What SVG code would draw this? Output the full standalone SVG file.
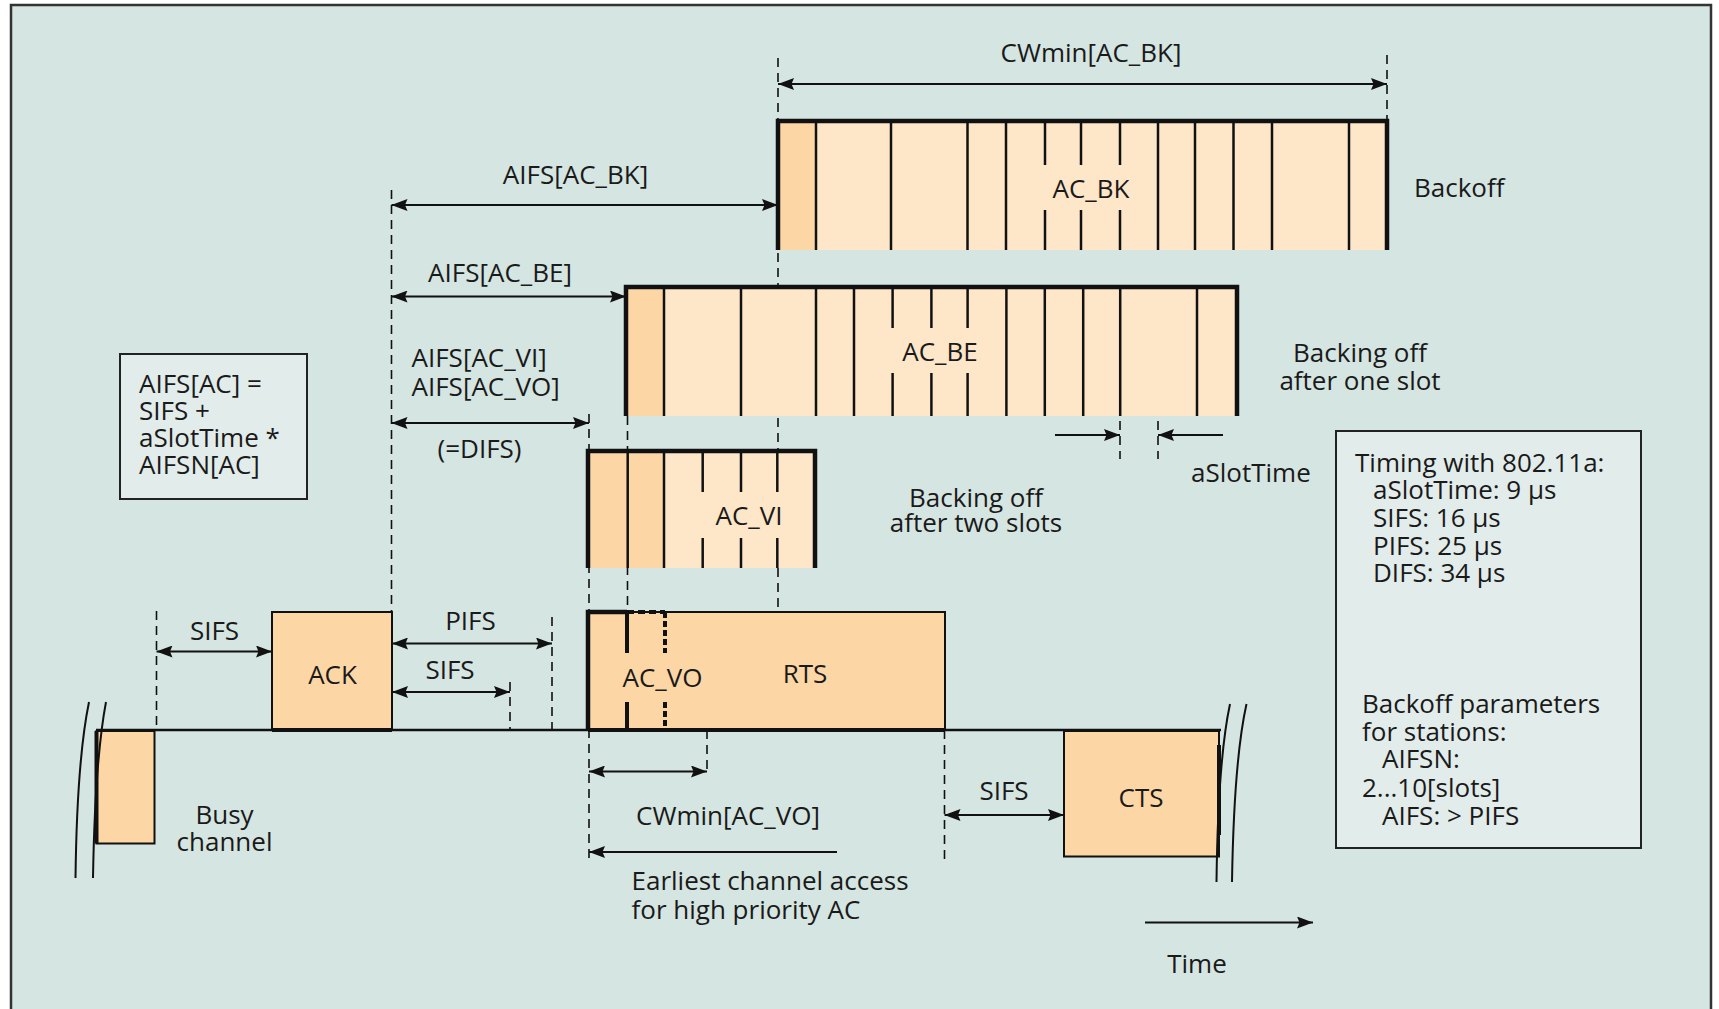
<svg xmlns="http://www.w3.org/2000/svg" width="1719" height="1009" viewBox="0 0 1719 1009">
<defs>
<marker id="ah" viewBox="0 0 16 12" refX="16" refY="6" markerWidth="16" markerHeight="12" markerUnits="userSpaceOnUse" orient="auto-start-reverse"><path d="M0,0 L16,6 L0,12 L2.5,6 z" fill="#111"/></marker>
</defs>
<style>
.t{font-family:"Open Sans","Liberation Sans",Arial,sans-serif;font-size:26px;fill:#1a1a1a}
.m{text-anchor:middle}
.dash{stroke:#111;stroke-width:1.6;stroke-dasharray:9 6;fill:none}
.arr{stroke:#111;stroke-width:2.2;fill:none;marker-end:url(#ah)}
.dbl{marker-start:url(#ah)}
.dk{fill:#fdd6a6}
.lt{fill:#fee6c9}
.slot{stroke:#111;stroke-width:2.5}
.thick{stroke:#111;stroke-width:4.5;fill:none}
.edge{stroke:#111;stroke-width:2}
.leg{fill:#e2ecea;stroke:#222;stroke-width:2}
.brk{stroke:#111;stroke-width:2;fill:none}
</style>
<rect x="0" y="0" width="1719" height="1009" fill="#ffffff"/>
<rect x="11" y="5" width="1700" height="1030" fill="#d5e5e1" stroke="#333" stroke-width="2.5"/>

<g id="connectors">
  <!-- dashed guides -->
  <line class="dash" x1="778" y1="58" x2="778" y2="612"/>
  <line class="dash" x1="1387" y1="55" x2="1387" y2="121"/>
  <line class="dash" x1="391.5" y1="190" x2="391.5" y2="612"/>
  <line class="dash" x1="589" y1="414" x2="589" y2="861"/>
  <line class="dash" x1="627.5" y1="416" x2="627.5" y2="612"/>
  <line class="dash" x1="707" y1="730" x2="707" y2="773"/>
  <line class="dash" x1="944.5" y1="730" x2="944.5" y2="862"/>
  <line class="dash" x1="156.5" y1="611" x2="156.5" y2="730"/>
  <line class="dash" x1="552" y1="617" x2="552" y2="730"/>
  <line class="dash" x1="510" y1="682" x2="510" y2="730"/>
  <line class="dash" x1="1120" y1="421" x2="1120" y2="459"/>
  <line class="dash" x1="1158" y1="421" x2="1158" y2="459"/>
  <!-- arrows -->
  <line class="arr dbl" x1="778" y1="84" x2="1387" y2="84"/>
  <line class="arr dbl" x1="391.5" y1="205" x2="778" y2="205"/>
  <line class="arr dbl" x1="391.5" y1="296.5" x2="626" y2="296.5"/>
  <line class="arr dbl" x1="391.5" y1="423" x2="589" y2="423"/>
  <line class="arr" x1="1055" y1="435" x2="1120" y2="435"/>
  <line class="arr" x1="1223" y1="435" x2="1158" y2="435"/>
  <line class="arr dbl" x1="156.5" y1="651.5" x2="272" y2="651.5"/>
  <line class="arr dbl" x1="392" y1="643.5" x2="552" y2="643.5"/>
  <line class="arr dbl" x1="392" y1="692" x2="510" y2="692"/>
  <line class="arr dbl" x1="589" y1="771.5" x2="707" y2="771.5"/>
  <line class="arr" x1="837" y1="852" x2="589" y2="852"/>
  <line class="arr dbl" x1="944.5" y1="815" x2="1064" y2="815"/>
  <line class="arr" x1="1145" y1="922.5" x2="1313" y2="922.5"/>
</g>

<g id="ac_bk">
  <rect class="lt" x="778" y="121" width="609" height="129"/>
  <rect class="dk" x="778" y="121" width="38" height="129"/>
  <g class="slot">
    <line x1="816" y1="121" x2="816" y2="250"/>
    <line x1="891" y1="121" x2="891" y2="250"/>
    <line x1="967.5" y1="121" x2="967.5" y2="250"/>
    <line x1="1006" y1="121" x2="1006" y2="250"/>
    <line x1="1045" y1="121" x2="1045" y2="165"/><line x1="1045" y1="210" x2="1045" y2="250"/>
    <line x1="1081" y1="121" x2="1081" y2="165"/><line x1="1081" y1="210" x2="1081" y2="250"/>
    <line x1="1120" y1="121" x2="1120" y2="165"/><line x1="1120" y1="210" x2="1120" y2="250"/>
    <line x1="1158" y1="121" x2="1158" y2="250"/>
    <line x1="1195" y1="121" x2="1195" y2="250"/>
    <line x1="1233.5" y1="121" x2="1233.5" y2="250"/>
    <line x1="1272" y1="121" x2="1272" y2="250"/>
    <line x1="1349" y1="121" x2="1349" y2="250"/>
  </g>
  <path class="thick" d="M778,250 V121 H1387 V250"/>
  <text class="t m" x="1091" y="198">AC_BK</text>
</g>

<g id="ac_be">
  <rect class="lt" x="626" y="287" width="611" height="129"/>
  <rect class="dk" x="626" y="287" width="38" height="129"/>
  <g class="slot">
    <line x1="664" y1="287" x2="664" y2="416"/>
    <line x1="741" y1="287" x2="741" y2="416"/>
    <line x1="816" y1="287" x2="816" y2="416"/>
    <line x1="854" y1="287" x2="854" y2="416"/>
    <line x1="892.6" y1="287" x2="892.6" y2="328"/><line x1="892.6" y1="373" x2="892.6" y2="416"/>
    <line x1="931.4" y1="287" x2="931.4" y2="328"/><line x1="931.4" y1="373" x2="931.4" y2="416"/>
    <line x1="967.6" y1="287" x2="967.6" y2="328"/><line x1="967.6" y1="373" x2="967.6" y2="416"/>
    <line x1="1006.4" y1="287" x2="1006.4" y2="416"/>
    <line x1="1044.8" y1="287" x2="1044.8" y2="416"/>
    <line x1="1083.2" y1="287" x2="1083.2" y2="416"/>
    <line x1="1120.2" y1="287" x2="1120.2" y2="416"/>
    <line x1="1197" y1="287" x2="1197" y2="416"/>
  </g>
  <path class="thick" d="M626,416 V287 H1237 V416"/>
  <text class="t m" x="940" y="361">AC_BE</text>
</g>

<g id="ac_vi">
  <rect class="lt" x="588" y="451" width="227" height="117"/>
  <rect class="dk" x="588" y="451" width="76" height="117"/>
  <g class="slot">
    <line x1="627.7" y1="451" x2="627.7" y2="568"/>
    <line x1="664" y1="451" x2="664" y2="568"/>
    <line x1="702.7" y1="451" x2="702.7" y2="492"/><line x1="702.7" y1="538" x2="702.7" y2="568"/>
    <line x1="741" y1="451" x2="741" y2="492"/><line x1="741" y1="538" x2="741" y2="568"/>
    <line x1="777.3" y1="451" x2="777.3" y2="492"/><line x1="777.3" y1="538" x2="777.3" y2="568"/>
  </g>
  <path class="thick" d="M588,568 V451 H815 V568"/>
  <text class="t m" x="749" y="525">AC_VI</text>
</g>

<g id="rts">
  <rect class="dk edge" x="588" y="612" width="357" height="118"/>
  <path class="thick" d="M588,730 V612 H627"/>
  <line x1="627" y1="612" x2="665" y2="612" stroke="#111" stroke-width="4" stroke-dasharray="7 4"/>
  <line x1="627" y1="612" x2="627" y2="653" stroke="#111" stroke-width="4"/>
  <line x1="627" y1="702" x2="627" y2="730" stroke="#111" stroke-width="4"/>
  <line x1="665" y1="612" x2="665" y2="653" stroke="#111" stroke-width="4" stroke-dasharray="6 3"/>
  <line x1="665" y1="702" x2="665" y2="730" stroke="#111" stroke-width="4" stroke-dasharray="6 3"/>
  <text class="t m" x="662.5" y="687">AC_VO</text>
  <text class="t m" x="805" y="682.5">RTS</text>
</g>

<g id="ack">
  <rect class="dk edge" x="272" y="612" width="120" height="118"/>
  <text class="t m" x="332.5" y="683.5">ACK</text>
</g>

<g id="baseline">
  <line x1="96" y1="730" x2="1221" y2="730" stroke="#111" stroke-width="2.5"/>
  <line x1="272" y1="730" x2="392" y2="730" stroke="#111" stroke-width="4"/>
  <line x1="588" y1="730" x2="945" y2="730" stroke="#111" stroke-width="4"/>
</g>

<g id="busy">
  <rect class="dk edge" x="96.5" y="731" width="58" height="112.5"/>
  <line x1="96.5" y1="731" x2="96.5" y2="843.5" stroke="#111" stroke-width="4"/>
  <path class="brk" d="M89,702 Q77,760 75.5,878"/>
  <path class="brk" d="M106,702 Q95,760 93,878"/>
  <text class="t m" x="224.5" y="823.5"><tspan x="224.5">Busy</tspan><tspan x="224.5" dy="27.5">channel</tspan></text>
</g>

<g id="cts">
  <rect class="dk edge" x="1064" y="731" width="155" height="125.5"/>
  <line x1="1219" y1="745" x2="1219" y2="835" stroke="#111" stroke-width="4"/>
  <path class="brk" d="M1230,704 Q1218,760 1216.5,882"/>
  <path class="brk" d="M1246.5,704 Q1234,760 1232,882"/>
  <text class="t m" x="1141" y="807">CTS</text>
</g>

<g id="legend-aifs">
  <rect class="leg" x="120" y="354" width="187" height="145"/>
  <text class="t" x="139" y="393"><tspan x="139">AIFS[AC] =</tspan><tspan x="139" dy="27">SIFS +</tspan><tspan x="139" dy="27">aSlotTime *</tspan><tspan x="139" dy="27">AIFSN[AC]</tspan></text>
</g>

<g id="legend-timing">
  <rect class="leg" x="1336" y="431" width="305" height="417"/>
  <text class="t" x="1355" y="471.5"><tspan x="1355">Timing with 802.11a:</tspan><tspan x="1373" dy="27">aSlotTime: 9 µs</tspan><tspan x="1373" dy="28">SIFS: 16 µs</tspan><tspan x="1373" dy="28">PIFS: 25 µs</tspan><tspan x="1373" dy="27">DIFS: 34 µs</tspan></text>
  <text class="t" x="1362" y="713"><tspan x="1362">Backoff parameters</tspan><tspan x="1362" dy="27.5">for stations:</tspan><tspan x="1382" dy="27.5">AIFSN:</tspan><tspan x="1362" dy="28.5">2...10[slots]</tspan><tspan x="1382" dy="28.5">AIFS: &gt; PIFS</tspan></text>
</g>

<g id="labels">
  <text class="t m" x="1091" y="61.5">CWmin[AC_BK]</text>
  <text class="t" x="1414" y="197">Backoff</text>
  <text class="t m" x="575.5" y="184">AIFS[AC_BK]</text>
  <text class="t m" x="500" y="281.5">AIFS[AC_BE]</text>
  <text class="t m" x="1360" y="362"><tspan x="1360">Backing off</tspan><tspan x="1360" dy="27.5">after one slot</tspan></text>
  <text class="t" x="411.5" y="367"><tspan x="411.5">AIFS[AC_VI]</tspan><tspan x="411.5" dy="28.5">AIFS[AC_VO]</tspan></text>
  <text class="t m" x="479.5" y="458">(=DIFS)</text>
  <text class="t" x="1191" y="481.5">aSlotTime</text>
  <text class="t m" x="976" y="506.5"><tspan x="976">Backing off</tspan><tspan x="976" dy="25.5">after two slots</tspan></text>
  <text class="t m" x="214.5" y="639.5">SIFS</text>
  <text class="t m" x="470.5" y="630">PIFS</text>
  <text class="t m" x="450" y="679">SIFS</text>
  <text class="t m" x="728" y="825">CWmin[AC_VO]</text>
  <text class="t" x="631.5" y="890"><tspan x="631.5">Earliest channel access</tspan><tspan x="631.5" dy="28.5">for high priority AC</tspan></text>
  <text class="t m" x="1004" y="800">SIFS</text>
  <text class="t m" x="1197" y="973">Time</text>
</g>
</svg>
